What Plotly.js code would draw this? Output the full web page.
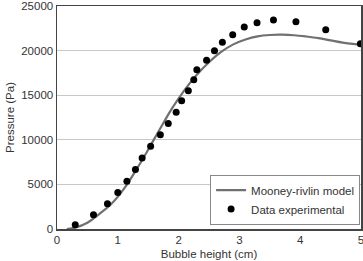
<!DOCTYPE html>
<html>
<head>
<meta charset="utf-8">
<script src="https://cdn.plot.ly/plotly-3.0.1.min.js"></script>
<style>html,body{margin:0;padding:0;background:#fff;}#chart{width:363px;height:261px;}</style>
</head>
<body>
<div id="chart"></div>
<script>
// Mooney-Rivlin model curve
const modelHeight = [0.16, 0.3, 0.5, 0.7, 0.9, 1.1, 1.3, 1.5, 1.7, 1.9, 2.1, 2.3, 2.5, 2.7, 2.9, 3.1, 3.3, 3.5, 3.7, 3.9, 4.1, 4.3, 4.5, 4.7, 5.0];
const modelPressure = [0, 150, 700, 1700, 2850, 4500, 6600, 8900, 11300, 13600, 15600, 17300, 18700, 19850, 20700, 21250, 21600, 21750, 21780, 21720, 21580, 21400, 21150, 20900, 20650];

// Experimental data
const expHeight = [0.30, 0.60, 0.83, 1.00, 1.15, 1.29, 1.40, 1.54, 1.70, 1.83, 1.96, 2.05, 2.16, 2.25, 2.30, 2.46, 2.59, 2.72, 2.89, 3.08, 3.29, 3.56, 3.93, 4.42, 4.99];
const expPressure = [480, 1590, 2820, 4080, 5350, 6680, 7970, 9280, 10580, 11840, 13100, 14370, 15510, 16740, 17850, 18930, 19970, 20940, 21790, 22640, 23120, 23420, 23230, 22340, 20780];

const xTicks = [0, 1, 2, 3, 4, 5];
const yTicks = [0, 5000, 10000, 15000, 20000, 25000];

const font = "Liberation Sans, Arial, sans-serif";

const traces = [
  {
    x: modelHeight, y: modelPressure, type: 'scatter', mode: 'lines',
    name: 'Mooney-rivlin model',
    line: {color: '#707070', width: 2.2, shape: 'spline'},
    cliponaxis: true
  },
  {
    x: expHeight, y: expPressure, type: 'scatter', mode: 'markers',
    name: 'Data experimental',
    marker: {color: '#000', size: 7},
    cliponaxis: false
  }
];

const layout = {
  width: 363, height: 261,
  margin: {l: 57, r: 2, t: 6, b: 32},
  paper_bgcolor: '#fff', plot_bgcolor: '#fff',
  font: {family: font, size: 11.5, color: '#333'},
  showlegend: true,
  legend: {
    x: 0.997, y: 0.02, xanchor: 'right', yanchor: 'bottom',
    bordercolor: '#888', borderwidth: 1, bgcolor: '#fff',
    font: {family: font, size: 11.5, color: '#333'},
    tracegroupgap: 0, itemwidth: 30
  },
  xaxis: {
    range: [0, 5], tickvals: xTicks, ticktext: xTicks.map(String),
    showgrid: false, zeroline: false,
    showline: true, mirror: true, linecolor: '#444', linewidth: 1.5,
    ticks: '', ticklabeloverflow: 'allow',
    title: {text: 'Bubble height (cm)', font: {family: font, size: 11.5, color: '#333'}, standoff: 4}
  },
  yaxis: {
    range: [0, 25000], tickvals: yTicks, ticktext: yTicks.map(String),
    showgrid: true, gridcolor: '#c8c8c8', gridwidth: 1, zeroline: false,
    showline: true, mirror: true, linecolor: '#444', linewidth: 1.5,
    ticks: '', ticklabeloverflow: 'allow',
    title: {text: 'Pressure (Pa)', font: {family: font, size: 11.5, color: '#333'}, standoff: 4}
  }
};

Plotly.newPlot('chart', traces, layout, {displayModeBar: false, staticPlot: true});
</script>
</body>
</html>
